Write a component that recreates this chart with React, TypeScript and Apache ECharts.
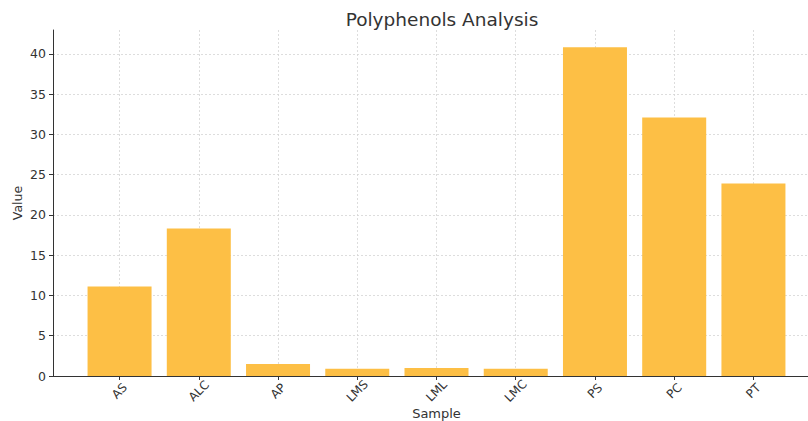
import React, { useEffect, useRef } from "react";
import * as echarts from "echarts";

const title = "Polyphenols Analysis";
const categories = ["AS", "ALC", "AP", "LMS", "LML", "LMC", "PS", "PC", "PT"];
const values = [11.1, 18.3, 1.5, 0.9, 1.0, 0.9, 40.8, 32.1, 23.9];
const yTicks = [0, 5, 10, 15, 20, 25, 30, 35, 40];
const xName = "Sample";
const yName = "Value";

export default function App() {
  const ref = useRef<HTMLDivElement>(null);
  useEffect(() => {
    if (!ref.current) return;
    const chart = echarts.init(ref.current, undefined, { renderer: "svg" });
    const idx = categories.map((_, i) => i);
    const font = "DejaVu Sans";
    const grid = { left: 53, right: -12, top: 30, bottom: 45, outerBoundsMode: "none", containLabel: false };
    chart.setOption({
      animation: false,
      backgroundColor: "#ffffff",
      title: {
        text: title,
        left: 437,
        textAlign: "center",
        top: 5,
        textStyle: { fontFamily: font, fontSize: 18.5, fontWeight: "normal", color: "#333333" },
      },
      grid,
      xAxis: {
        type: "value",
        min: -0.84,
        max: 8.84,
        name: xName,
        nameLocation: "middle",
        nameGap: 31,
        nameMoveOverlap: false,
        nameTextStyle: { fontFamily: font, fontSize: 13, color: "#333333" },
        axisLine: { show: true, onZero: false, lineStyle: { color: "#333333", width: 1 } },
        axisTick: { show: true, customValues: idx, length: 4, lineStyle: { color: "#333333" } },
        axisLabel: {
          customValues: idx,
          formatter: (v: number) => categories[Math.round(v)] ?? "",
          rotate: 45,
          align: "center",
          verticalAlign: "middle",
          margin: 15,
          fontFamily: font,
          fontSize: 12,
          color: "#333333",
        },
        splitLine: { show: true, lineStyle: { color: "#d4d4d4", type: [2, 2], width: 0.8 } },
      },
      yAxis: {
        type: "value",
        min: 0,
        max: 42.95,
        name: yName,
        nameLocation: "middle",
        nameRotate: 90,
        nameGap: 29,
        nameMoveOverlap: false,
        nameTextStyle: { fontFamily: font, fontSize: 12.5, color: "#333333" },
        axisLine: { show: true, onZero: false, lineStyle: { color: "#333333", width: 1 } },
        axisTick: { show: true, customValues: yTicks, length: 4, lineStyle: { color: "#333333" } },
        axisLabel: {
          customValues: yTicks,
          margin: 7,
          fontFamily: font,
          fontSize: 12.5,
          color: "#333333",
        },
        splitLine: { show: true, lineStyle: { color: "#d4d4d4", type: [2, 2], width: 0.8 } },
      },
      series: [
        {
          type: "bar",
          data: values.map((v, i) => [i, v]),
          barWidth: 64,
          itemStyle: { color: "#FDBF45" },
        },
      ],
    });
    return () => chart.dispose();
  }, []);
  return (
    <div
      ref={ref}
      style={{ position: "fixed", left: 0, top: 0, width: 808, height: 421 }}
    />
  );
}
